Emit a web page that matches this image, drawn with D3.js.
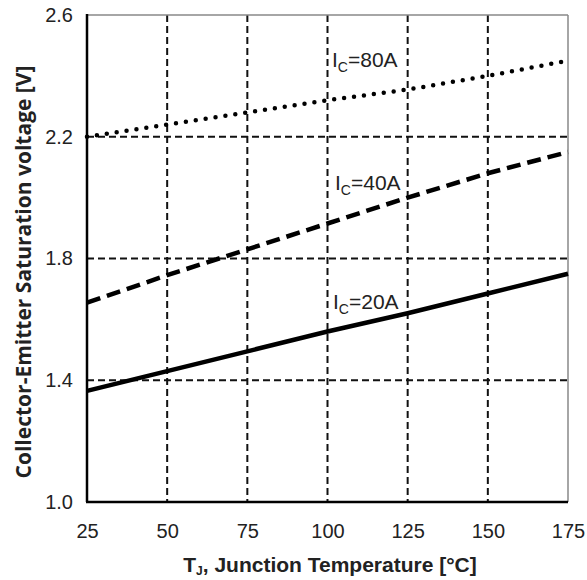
<!DOCTYPE html>
<html>
<head>
<meta charset="utf-8">
<script src="https://cdn.jsdelivr.net/npm/d3@7"></script>
<style>
body { margin: 0; background: #fff; }
text { fill: #222; }
</style>
</head>
<body>
<script>
var temps = [25, 50, 75, 100, 125, 150, 175];
var vce80 = [2.20, 2.24, 2.28, 2.32, 2.355, 2.40, 2.45];
var vce40 = [1.655, 1.745, 1.83, 1.915, 2.0, 2.08, 2.15];
var vce20 = [1.365, 1.43, 1.495, 1.56, 1.62, 1.685, 1.75];
var xTicks = [25, 50, 75, 100, 125, 150, 175];
var yTicks = [1.0, 1.4, 1.8, 2.2, 2.6];
var seriesNames = ["80A", "40A", "20A"];

var margin = {top: 15, right: 19, bottom: 78, left: 87};
var svgWidth = 587, svgHeight = 580;
var width = svgWidth - margin.left - margin.right;
var height = svgHeight - margin.top - margin.bottom;

var svg = d3.select("body").append("svg")
    .attr("width", svgWidth)
    .attr("height", svgHeight)
    .append("g")
        .attr("transform", "translate(" + margin.left + "," + margin.top + ")");

var xScale = d3.scaleLinear().domain([25, 175]).range([0, width]);
var yScale = d3.scaleLinear().domain([1.0, 2.6]).range([height, 0]);

// grid
svg.append("g").selectAll("line")
    .data(xTicks.slice(1, -1))
    .enter().append("line")
        .attr("x1", d => xScale(d)).attr("x2", d => xScale(d))
        .attr("y1", 0).attr("y2", height)
        .attr("stroke", "#111").attr("stroke-width", 2)
        .attr("stroke-dasharray", "7,4");

svg.append("g").selectAll("line")
    .data(yTicks.slice(1, -1))
    .enter().append("line")
        .attr("x1", 0).attr("x2", width)
        .attr("y1", d => yScale(d)).attr("y2", d => yScale(d))
        .attr("stroke", "#111").attr("stroke-width", 2)
        .attr("stroke-dasharray", "7,4");

// frame: top/right light, left/bottom heavy
svg.append("line").attr("x1", 0).attr("x2", width).attr("y1", 0).attr("y2", 0)
    .attr("stroke", "#888").attr("stroke-width", 1.5);
svg.append("line").attr("x1", width).attr("x2", width).attr("y1", 0).attr("y2", height)
    .attr("stroke", "#888").attr("stroke-width", 1.5);

// series
var line = d3.line()
    .x((d, i) => xScale(temps[i]))
    .y(d => yScale(d));

svg.append("path").datum(vce80)
    .attr("d", line).attr("fill", "none")
    .attr("stroke", "#000").attr("stroke-width", 4.5)
    .attr("stroke-linecap", "round").attr("stroke-dasharray", "0,10");

svg.append("path").datum(vce40)
    .attr("d", line).attr("fill", "none")
    .attr("stroke", "#000").attr("stroke-width", 4.5)
    .attr("stroke-dasharray", "14,7");

svg.append("path").datum(vce20)
    .attr("d", line).attr("fill", "none")
    .attr("stroke", "#000").attr("stroke-width", 4.5);

// axes (ticks hidden, labels kept)
var xAxis = svg.append("g")
    .attr("transform", "translate(0," + height + ")")
    .call(d3.axisBottom(xScale).tickValues(xTicks).tickSize(0).tickPadding(22));
xAxis.select(".domain").remove();
xAxis.selectAll("text")
    .style("font-family", "Liberation Sans, Arial, sans-serif")
    .style("font-size", "20px").attr("fill", "#222");

var yAxis = svg.append("g")
    .call(d3.axisLeft(yScale).tickValues(yTicks).tickFormat(d3.format(".1f")).tickSize(0).tickPadding(14));
yAxis.select(".domain").remove();
yAxis.selectAll("text")
    .style("font-family", "Liberation Sans, Arial, sans-serif")
    .style("font-size", "20px").attr("fill", "#222");

svg.append("line").attr("x1", 0).attr("x2", 0).attr("y1", -1).attr("y2", height)
    .attr("stroke", "#000").attr("stroke-width", 2.5);
svg.append("line").attr("x1", -1).attr("x2", width).attr("y1", height).attr("y2", height)
    .attr("stroke", "#000").attr("stroke-width", 2.5);

// series labels
var labelPos = [[332, 67], [335, 190], [333, 309]];
seriesNames.forEach(function(name, i) {
    var t = svg.append("text")
        .attr("x", labelPos[i][0] - margin.left)
        .attr("y", labelPos[i][1] - margin.top)
        .style("font-family", "Liberation Sans, Arial, sans-serif")
        .style("font-size", "21px");
    t.append("tspan").text("I");
    t.append("tspan").text("C").attr("dy", 5).style("font-size", "14px");
    t.append("tspan").text("=" + name).attr("dy", -5);
});

// axis titles
var xt = svg.append("text")
    .attr("text-anchor", "middle")
    .attr("x", 330 - margin.left)
    .attr("y", 572 - margin.top)
    .style("font-family", "Liberation Sans, Arial, sans-serif")
    .style("font-size", "21px").style("font-weight", "bold");
xt.append("tspan").text("T");
xt.append("tspan").text("J").attr("dy", 3).style("font-size", "12px");
xt.append("tspan").text(", Junction Temperature [\u00B0C]").attr("dy", -3);

svg.append("text")
    .text("Collector-Emitter Saturation voltage [V]")
    .attr("text-anchor", "middle")
    .attr("transform", "translate(" + (31 - margin.left) + "," + (272 - margin.top) + ") rotate(-90)")
    .style("font-family", "Open Sans, sans-serif")
    .style("font-size", "21px").style("font-weight", "bold");
</script>
</body>
</html>
